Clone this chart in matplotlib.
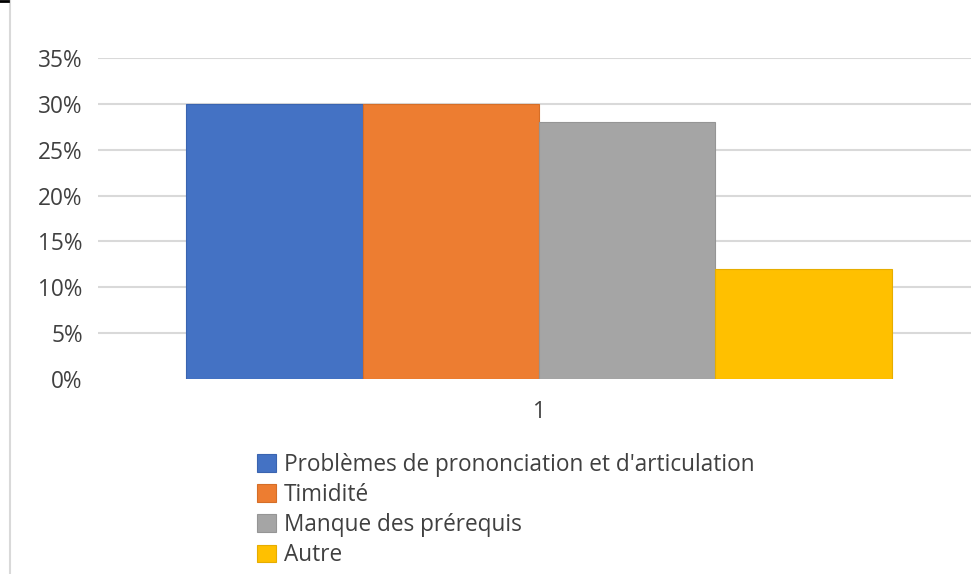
import matplotlib.pyplot as plt
from matplotlib.lines import Line2D
from matplotlib.ticker import PercentFormatter

categories = ['1']
series = ["Problèmes de prononciation et d'articulation", 'Timidité',
          'Manque des prérequis', 'Autre']
values = [0.30, 0.30, 0.28, 0.12]
colors = ['#4472C4', '#ED7D31', '#A5A5A5', '#FFC000']
edges = ['#3A64B0', '#D56E28', '#959595', '#E6AD00']
yticks = [0, 0.05, 0.10, 0.15, 0.20, 0.25, 0.30, 0.35]

plt.rcParams['font.family'] = ['Open Sans', 'DejaVu Sans']
txt = '#404040'
fs = 16.3

fig = plt.figure(figsize=(9.71, 5.74), dpi=100)
ax = fig.add_axes([98/971, 1-379/574, 873/971, (379-58)/574])

w = 0.2
for i, (name, v) in enumerate(zip(series, values)):
    ax.bar(0 + (i - 1.5) * w, v, width=w, color=colors[i], edgecolor=edges[i],
           linewidth=0.8, label=name, zorder=3)

ax.set_xlim(-0.5, 0.5 - 9/880)
ax.set_ylim(0, 0.35)
ax.set_xticks([0])
ax.set_xticklabels(categories)
ax.set_yticks(yticks)
ax.yaxis.set_major_formatter(PercentFormatter(1.0, decimals=0))
ax.tick_params(axis='x', length=0, pad=15, labelsize=fs, labelcolor=txt)
ax.tick_params(axis='y', length=0, pad=11, labelsize=fs, labelcolor=txt)
for s in ax.spines.values():
    s.set_visible(False)
ax.yaxis.grid(True, color='#D9D9D9', linewidth=1.5, zorder=0)
ax.yaxis.get_gridlines()[0].set_visible(False)

leg = fig.legend(loc='upper left', bbox_to_anchor=(257/971, 1-453/574),
                 frameon=False, fontsize=fs, handlelength=0.83, handleheight=0.83,
                 handletextpad=0.35, labelspacing=0.27, borderaxespad=0,
                 borderpad=0)
for t in leg.get_texts():
    t.set_color(txt)

# frame bits of the original screenshot
fig.add_artist(Line2D([10/971, 10/971], [0, 1], color='#D9D9D9', lw=1.5))
fig.add_artist(Line2D([0, 8/971], [1-1/574, 1-1/574], color='black', lw=2))

fig.savefig('out.png', dpi=100)
